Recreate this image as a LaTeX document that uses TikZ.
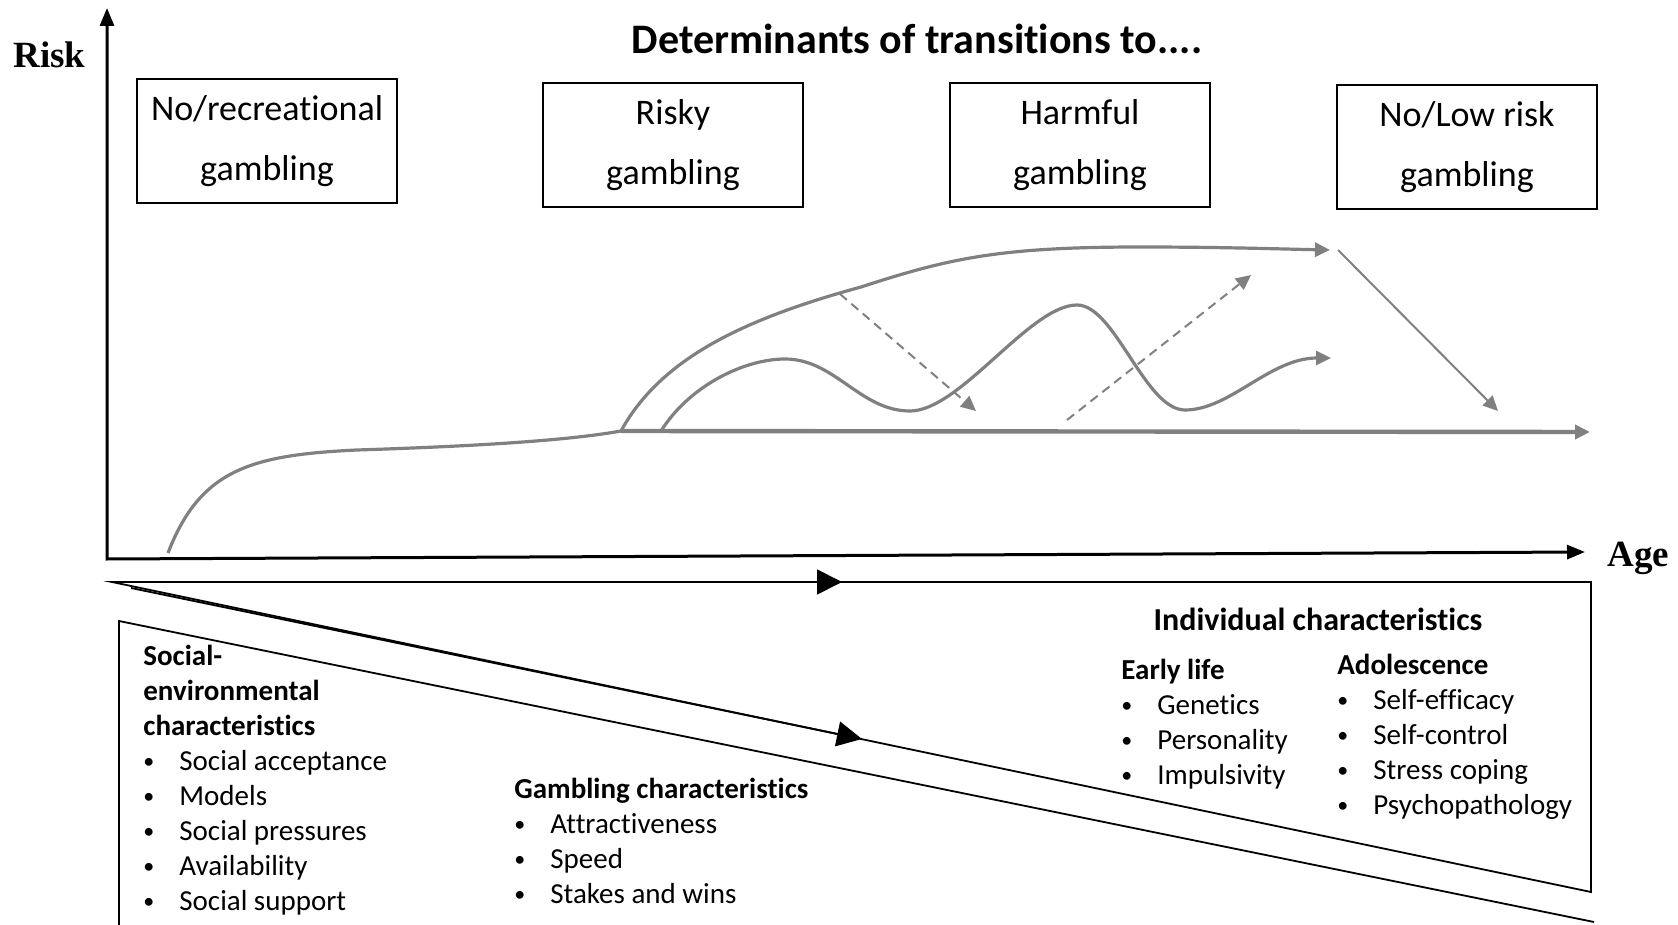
\documentclass[tikz,border=0pt]{standalone}
\usepackage{fontspec}
\setmainfont{Carlito}[Ligatures=NoCommon]
\newfontfamily\axisfont{Liberation Serif}
\usetikzlibrary{arrows.meta}
\definecolor{curvegray}{RGB}{128,128,128}
\newcommand\itm[1]{\makebox[18pt][l]{\raisebox{1pt}{\fontsize{11}{11}\selectfont\textbullet}}#1}

\begin{document}
\begin{tikzpicture}[x=0.5pt,y=-0.5pt,
            stage/.style={draw,line width=1pt,minimum width=130pt,minimum height=62pt,inner sep=0pt,align=center,font=\fontsize{18}{30}\selectfont},
            block/.style={anchor=north west,inner sep=0pt,align=left,font=\fontsize{14.5}{17.5}\selectfont},
            axlabel/.style={anchor=base west,inner sep=0pt,font=\axisfont\bfseries\fontsize{18.5}{22}\selectfont},
            axis/.style={line width=1.5pt,{Triangle[length=9pt,width=7pt]}-{Triangle[length=9pt,width=7pt]}},
            frame/.style={line width=0.9pt},
            bigtip/.style={-{Triangle[length=12.5pt,width=12.5pt]}},
            trend/.style={curvegray,line width=1.6pt},
            gtip/.style={-{Triangle[length=7.5pt,width=7pt]}}]
                \useasboundingbox (0,0) rectangle (1678,925);
                % axes
                \coordinate (o) at (107,559);
                \coordinate (ytip) at (107,8);
                \coordinate (xtip) at (1585,552);
                \draw[axis] (ytip) -- (o) -- (xtip);
                \node[axlabel] (risk) at (13,68) {Risk};
                \node[axlabel] (age) at (1607,567) {Age};
                \node[anchor=base,inner sep=0pt,font=\bfseries\fontsize{21}{25}\selectfont] (title) at (917,54) {Determinants of transitions to....};
                % stages
                \node[stage] (nrec) at (267,141) {No/recreational\\gambling};
                \node[stage] (risky) at (673,145) {Risky\\gambling};
                \node[stage] (harm) at (1080,145) {Harmful\\gambling};
                \node[stage] (low) at (1467,147) {No/Low risk\\gambling};
                % trajectories
                \coordinate (j) at (621,431);
                \draw[trend] (168,553) .. controls (200,470) and (250,455) .. (357,450)
                    .. controls (450,447) and (560,442) .. (j);
                \draw[trend,line width=2.2pt,gtip] (j) -- (1590,432);
                \draw[trend,gtip] (j) .. controls (660,360) and (740,320) .. (861,287)
                    .. controls (950,258) and (1000,247) .. (1141,247)
                    .. controls (1220,247) and (1280,249) .. (1330,250);
                \draw[trend,gtip] (661,431) .. controls (690,385) and (745,359) .. (785,359)
                    .. controls (835,359) and (860,411) .. (910,411)
                    .. controls (960,411) and (1030,305) .. (1077,305)
                    .. controls (1115,305) and (1145,410) .. (1185,410)
                    .. controls (1230,410) and (1270,358) .. (1331,358);
                \draw[curvegray,line width=1pt,dash pattern=on 4.5pt off 3pt,gtip] (840,294) -- (976,411);
                \draw[curvegray,line width=1pt,dash pattern=on 4.5pt off 3pt,gtip] (1067,420) -- (1251,275);
                \draw[curvegray,line width=1pt,gtip] (1338,250) -- (1498,411);
                % determinants
                \coordinate (tl) at (112,582);
                \coordinate (tr) at (1591,582);
                \coordinate (br) at (1591,892);
                \draw[frame] (tl) -- (tr) -- (br) -- cycle;
                \draw[frame,bigtip] (tl) -- (842,582);
                \draw[frame,bigtip] (131,588) -- (862,739);
                \coordinate (lb) at (119,930);
                \coordinate (lt) at (119,621);
                \coordinate (lr) at (1594,922);
                \draw[frame] (lb) -- (lt) -- (lr);
                \node[block] (soc) at (143,645) {\textbf{Social-}\\\textbf{environmental}\\\textbf{characteristics}\\
                    \itm{Social acceptance}\\\itm{Models}\\\itm{Social pressures}\\\itm{Availability}\\\itm{Social support}};
                \node[block] (gamb) at (514,778) {\textbf{Gambling characteristics}\\
                    \itm{Attractiveness}\\\itm{Speed}\\\itm{Stakes and wins}};
                \node[anchor=base,inner sep=0pt,font=\bfseries\fontsize{16}{19}\selectfont] (indiv) at (1318,630) {Individual characteristics};
                \node[block] (early) at (1121,659) {\textbf{Early life}\\
                    \itm{Genetics}\\\itm{Personality}\\\itm{Impulsivity}};
                \node[block] (adol) at (1337,654) {\textbf{Adolescence}\\
                    \itm{Self-efficacy}\\\itm{Self-control}\\\itm{Stress coping}\\\itm{Psychopathology}};
        \end{tikzpicture}
\end{document}
